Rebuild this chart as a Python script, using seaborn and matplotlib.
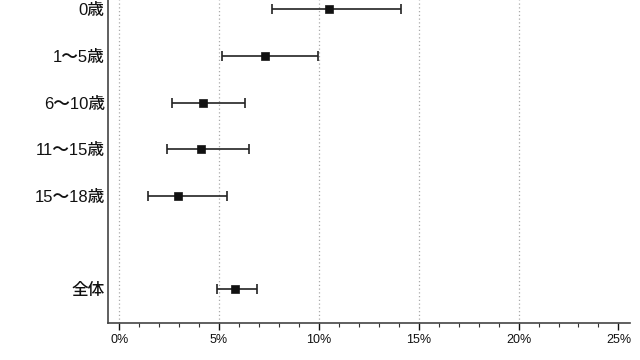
import matplotlib
matplotlib.use("Agg")
import matplotlib.pyplot as plt
import seaborn as sns
import pandas as pd
import numpy as np
from matplotlib.ticker import MultipleLocator, FuncFormatter

categories = ["0歳", "1～5歳", "6～10歳", "11～15歳", "15～18歳", "全体"]
estimate = [10.5, 7.28, 4.18, 4.1, 2.97, 5.8]
ci_low = [7.65, 5.15, 2.65, 2.4, 1.43, 4.9]
ci_high = [14.1, 9.97, 6.32, 6.5, 5.42, 6.9]
row_slot = [0, 1, 2, 3, 4, 6]  # 全体 separated by one empty row

sns.set_theme(style="white")
plt.rcParams['font.family'] = ['Liberation Sans', 'Noto Sans CJK JP', 'DejaVu Sans']

df = pd.DataFrame({"cat": categories, "est": estimate, "lo": ci_low,
                   "hi": ci_high, "y": row_slot})

fig, ax = plt.subplots(figsize=(6.4, 3.6), dpi=100)
fig.subplots_adjust(left=0.169, right=0.985, top=1.0, bottom=0.103)

for xv in [0, 5, 10, 15, 20]:
    ax.axvline(xv, color="#aaaaaa", linestyle=(0, (1, 2)), linewidth=0.9, zorder=0)

ax.errorbar(df["est"], df["y"],
            xerr=[df["est"] - df["lo"], df["hi"] - df["est"]],
            fmt="none", ecolor="#222222", elinewidth=1.2, capsize=3.5,
            capthick=1.2, zorder=2)
sns.scatterplot(data=df, x="est", y="y", marker="s", s=36, color="#111111",
                edgecolor="#111111", ax=ax, zorder=3, legend=False)

ax.set_xlim(-0.55, 25.6)
ax.set_ylim(6.72, -0.2)
ax.set_yticks(df["y"])
ax.set_yticklabels(df["cat"], fontsize=12, color="#111111", fontweight="medium")
ax.xaxis.set_major_locator(MultipleLocator(5))
ax.xaxis.set_minor_locator(MultipleLocator(1))
ax.xaxis.set_major_formatter(FuncFormatter(lambda v, p: f"{int(v)}%"))
ax.tick_params(axis="x", which="major", length=5, width=1, direction="out",
               bottom=True, labelsize=9, colors="#111111", pad=3)
ax.tick_params(axis="x", which="minor", length=3, width=0.8, direction="out",
               bottom=True, color="#333333")
ax.tick_params(axis="y", length=0, pad=2.5)
ax.set_xlabel("")
ax.set_ylabel("")
sns.despine(ax=ax, top=True, right=True)
for s in ["left", "bottom"]:
    ax.spines[s].set_color("#444444")
    ax.spines[s].set_linewidth(1.2)

fig.savefig("out.png", dpi=100)
